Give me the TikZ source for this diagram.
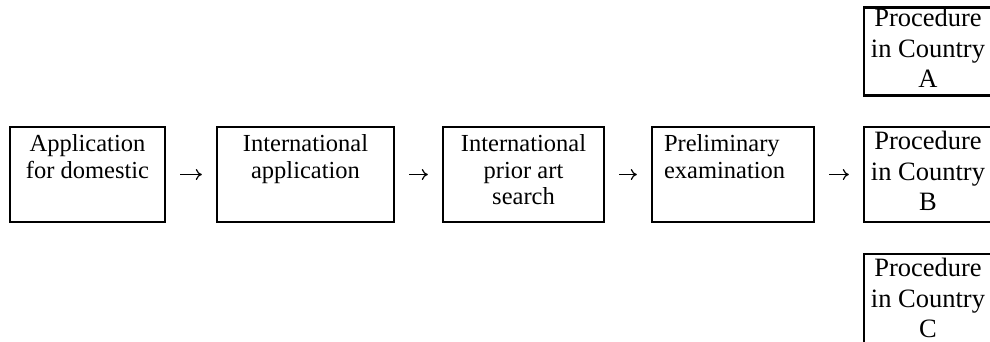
\documentclass[tikz,border=0pt]{standalone}
\usepackage{fontspec}
\setmainfont{Liberation Serif}
\usetikzlibrary{arrows.meta}
\newcommand\lstrut{\rule[-10bp]{0pt}{26.5bp}}
\newcommand\rstrut{\rule[-7.25bp]{0pt}{30.5bp}}
\tikzset{
  stage/.style = { draw, line width=2.4bp, minimum height=95bp, inner sep=0pt, align=center,
    font=\fontsize{24.5bp}{26.5bp}\selectfont,
    execute at begin node=\lstrut, execute at end node=\lstrut },
  cty/.style = { draw, line width=2.4bp, minimum width=128bp, minimum height=95bp, inner sep=0pt,
    align=center, font=\fontsize{26.5bp}{30.5bp}\selectfont,
    execute at begin node=\rstrut, execute at end node=\rstrut },
  flow/.style = { -{Computer Modern Rightarrow[length=6bp,width=11bp]}, line width=1.2bp,
    shorten <=14bp, shorten >=14bp }
}
\begin{document}
\begin{tikzpicture}[x=1bp,y=-1bp]
    \useasboundingbox (0,0) rectangle (990,341);
    \clip (0,0) rectangle (990,341);

    \node[stage, minimum width=155bp] (dom) at (87.5,174.5) {Application\\for domestic\\};
    \node[stage, minimum width=177bp] (intl) at (305.5,174.5) {International\\application\\};
    \node[stage, minimum width=161bp] (search) at (523.5,174.5) {International\\prior art\\search};
    \node[stage, minimum width=162bp, text width=138bp, inner xsep=12bp, align=left]
      (prelim) at (733,174.5) {Preliminary\\examination\\};

    \node[cty, minimum height=88bp] (ctyA) at (928,51.5) {Procedure\\in Country\\A};
    \node[cty] (ctyB) at (928,174.5) {Procedure\\in Country\\B};
    \node[cty] (ctyC) at (928,301.5) {Procedure\\in Country\\C};

    \draw[flow] (dom) -- (intl);
    \draw[flow] (intl) -- (search);
    \draw[flow] (search) -- (prelim);
    \draw[flow] (prelim) -- (ctyB);
\end{tikzpicture}
\end{document}
